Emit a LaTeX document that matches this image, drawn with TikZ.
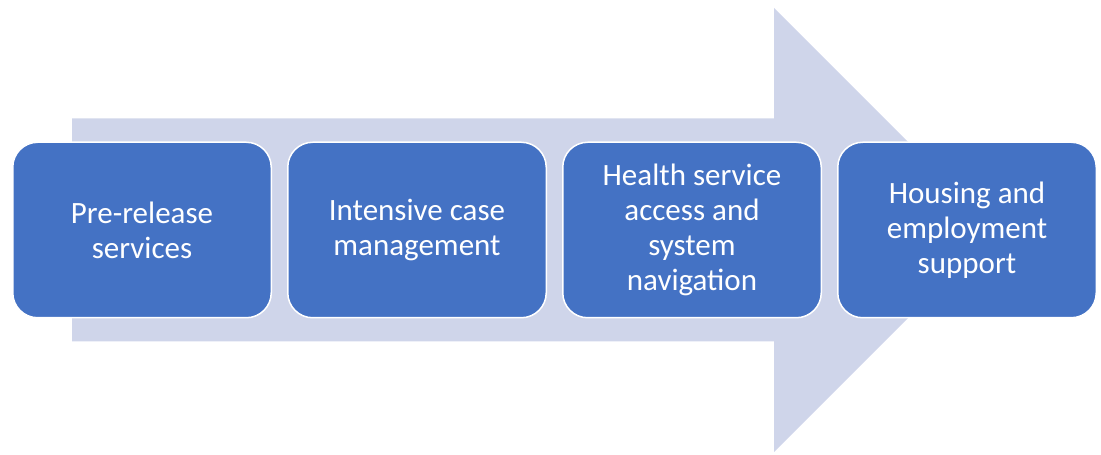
\documentclass[tikz,border=0pt]{standalone}
\usepackage{fontspec}
\setmainfont{Carlito}
\usetikzlibrary{positioning}
\usetikzlibrary{math}
\definecolor{arrowblue}{HTML}{CFD5EA}
\definecolor{boxblue}{HTML}{4472C4}
\tikzset{
    stagebox/.style={
        rectangle, rounded corners=25pt,
        draw=white, line width=1.5pt,
        fill=boxblue, text=white,
        minimum width=258.5pt, minimum height=175.5pt,
        align=center,
        font=\fontsize{31}{35}\selectfont
    }
}
\begin{document}
\begin{tikzpicture}[x=1pt,y=1pt]

\useasboundingbox (0,0) rectangle (1101,455);

% Sizes of the arrow
\tikzmath{
    \arrowy = 225;
    \shafth = 111.5;
    \headh = 222;
    \tailx = 72;
    \neckx = 774;
    \tipx = 996;
}

% Draws the arrow behind the boxes
\fill[arrowblue]
    (\tailx,{\arrowy-\shafth}) --
    (\neckx,{\arrowy-\shafth}) --
    (\neckx,{\arrowy-\headh}) --
    (\tipx,\arrowy) --
    (\neckx,{\arrowy+\headh}) --
    (\neckx,{\arrowy+\shafth}) --
    (\tailx,{\arrowy+\shafth}) -- cycle;

% Draws the stages
\node[stagebox] (prerelease) at (142,\arrowy) {Pre-release\\services};
\node[stagebox, right=15pt of prerelease] (casemgmt) {Intensive case\\management};
\node[stagebox, right=15pt of casemgmt] (health) {Health service\\access and\\system\\navigation};
\node[stagebox, right=15pt of health] (housing) {Housing and\\employment\\support};

\end{tikzpicture}
\end{document}
